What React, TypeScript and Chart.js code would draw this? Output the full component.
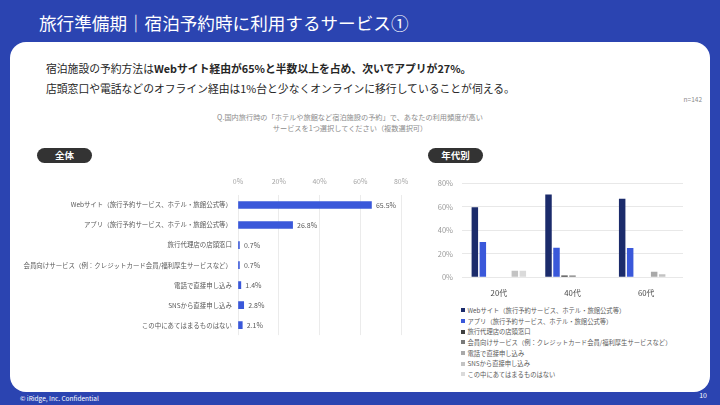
import React, { useEffect, useRef } from "react";
import { Chart, registerables } from "chart.js";

Chart.register(...registerables);

// ---------- data ----------
const serviceLabels = [
  "Webサイト（旅行予約サービス、ホテル・旅館公式等）",
  "アプリ（旅行予約サービス、ホテル・旅館公式等）",
  "旅行代理店の店頭窓口",
  "会員向けサービス（例：クレジットカード会員/福利厚生サービスなど）",
  "電話で直接申し込み",
  "SNSから直接申し込み",
  "この中にあてはまるものはない",
];
const overallValues = [65.5, 26.8, 0.7, 0.7, 1.4, 2.8, 2.1];
const percentTicks = [0, 20, 40, 60, 80];

const ageGroups = ["20代", "40代", "60代"];
const webByAge = [59.8, 70.6, 67.0];
const appByAge = [30.2, 25.3, 24.9];
const agencyByAge = [0, 1.5, 0];
const memberByAge = [0, 1.5, 0];
const phoneByAge = [0, 0, 4.8];
const snsByAge = [5.6, 0, 2.5];
const noneByAge = [5.6, 0, 0];
const ageSeries = [webByAge, appByAge, agencyByAge, memberByAge, phoneByAge, snsByAge, noneByAge];
const seriesColors = ["#1B2B6B", "#3A58DA", "#3F3F3F", "#7A7A7A", "#A9A9A9", "#C3C3C3", "#DADADA"];

const FONT = "'Noto Sans CJK JP', 'Noto Sans', sans-serif";
const BLUE_BG = "#2B44B1";

const valueLabelPlugin = {
  id: "valueLabels",
  afterDatasetsDraw(chart: any) {
    const ctx = chart.ctx;
    const meta = chart.getDatasetMeta(0);
    ctx.save();
    ctx.font = `7px ${FONT}`;
    ctx.fillStyle = "#5A5A5A";
    ctx.textBaseline = "middle";
    ctx.textAlign = "left";
    meta.data.forEach((bar: any, i: number) => {
      const v = chart.data.datasets[0].data[i];
      ctx.fillText(`${v.toFixed(1)}%`, bar.x + 4.5, bar.y + 0.5);
    });
    ctx.restore();
  },
};

function OverallChart() {
  const ref = useRef<HTMLCanvasElement>(null);
  useEffect(() => {
    const chart = new Chart(ref.current!, {
      type: "bar",
      data: {
        labels: serviceLabels,
        datasets: [
          {
            data: overallValues,
            backgroundColor: "#3A58DA",
            barThickness: 7,
          },
        ],
      },
      plugins: [valueLabelPlugin],
      options: {
        indexAxis: "y",
        responsive: false,
        animation: false,
        devicePixelRatio: 1,
        layout: { padding: { top: 0, right: 19, bottom: 6.5, left: 0 } },
        plugins: { legend: { display: false }, tooltip: { enabled: false } },
        scales: {
          x: {
            position: "top",
            min: 0,
            max: 80,
            afterBuildTicks: (s: any) => {
              s.ticks = percentTicks.map((v) => ({ value: v }));
            },
            afterFit: (s: any) => {
              s.height = 25;
            },
            grid: { color: "#EBEBEB", drawTicks: false },
            border: { display: false },
            ticks: {
              padding: 9,
              color: "#A6A6A6",
              font: { family: FONT, size: 7 },
              callback: (v: any) => `${v}%`,
            },
          },
          y: {
            afterFit: (s: any) => {
              s.width = 218;
            },
            grid: { display: false, drawTicks: false },
            border: { display: false },
            ticks: {
              padding: 6,
              color: "#595959",
              font: { family: FONT, size: 6.45 },
            },
          },
        },
      },
    } as any);
    return () => chart.destroy();
  }, []);
  return (
    <canvas
      ref={ref}
      width={400}
      height={175}
      style={{ position: "absolute", left: 20, top: 170, width: 400, height: 175 }}
    />
  );
}

function AgeChart() {
  const ref = useRef<HTMLCanvasElement>(null);
  useEffect(() => {
    const chart = new Chart(ref.current!, {
      type: "bar",
      data: {
        labels: ageGroups,
        datasets: ageSeries.map((vals, i) => ({
          label: serviceLabels[i],
          data: vals,
          backgroundColor: seriesColors[i],
          categoryPercentage: 0.76,
          barPercentage: 0.81,
        })),
      },
      options: {
        responsive: false,
        animation: false,
        devicePixelRatio: 1,
        layout: { padding: { top: 13.3, right: 17, bottom: 0, left: 0 } },
        plugins: { legend: { display: false }, tooltip: { enabled: false } },
        scales: {
          y: {
            min: 0,
            max: 80,
            afterBuildTicks: (s: any) => {
              s.ticks = percentTicks.map((v) => ({ value: v }));
            },
            afterFit: (s: any) => {
              s.width = 37;
            },
            grid: { color: "#E8E8E8", drawTicks: false },
            border: { display: false },
            ticks: {
              padding: 9,
              color: "#9A9A9A",
              font: { family: FONT, size: 7.5 },
              callback: (v: any) => `${v}%`,
            },
          },
          x: {
            afterFit: (s: any) => {
              s.height = 22.7;
            },
            grid: { display: false, drawTicks: false },
            border: { display: false },
            ticks: {
              padding: 11,
              color: "#4A4A4A",
              font: { family: FONT, size: 7.8 },
            },
          },
        },
      },
    } as any);
    return () => chart.destroy();
  }, []);
  return (
    <canvas
      ref={ref}
      width={275}
      height={130}
      style={{ position: "absolute", left: 425, top: 170, width: 275, height: 130 }}
    />
  );
}

function Pill({ text, left }: { text: string; left: number }) {
  return (
    <div
      style={{
        position: "absolute",
        left,
        top: 148,
        width: 55,
        height: 15,
        borderRadius: 8,
        background: "#333333",
        color: "#fff",
        fontSize: 9.5,
        fontWeight: 700,
        lineHeight: "15px",
        textAlign: "center",
      }}
    >
      {text}
    </div>
  );
}

export default function App() {
  return (
    <div
      style={{
        position: "fixed",
        left: 0,
        top: 0,
        width: 720,
        height: 405,
        background: BLUE_BG,
        overflow: "hidden",
        fontFamily: FONT,
      }}
    >
      <div
        style={{
          position: "absolute",
          left: 39,
          top: 12,
          color: "#fff",
          fontSize: 17.6,
          lineHeight: "22px",
          whiteSpace: "nowrap",
        }}
      >
        旅行準備期｜宿泊予約時に利用するサービス①
      </div>
      <div
        style={{
          position: "absolute",
          left: 10,
          top: 42,
          width: 700,
          height: 350,
          background: "#fff",
          borderRadius: 16,
        }}
      />
      <div
        style={{
          position: "absolute",
          left: 46,
          top: 59,
          fontSize: 10.8,
          lineHeight: "19.5px",
          color: "#262626",
          whiteSpace: "nowrap",
        }}
      >
        <div>
          宿泊施設の予約方法は<b>Webサイト経由が65%と半数以上を占め、次いでアプリが27%。</b>
        </div>
        <div>店頭窓口や電話などのオフライン経由は1%台と少なくオンラインに移行していることが伺える。</div>
      </div>
      <div
        style={{
          position: "absolute",
          right: 18,
          top: 94,
          fontSize: 6.5,
          color: "#8C8C8C",
        }}
      >
        n=142
      </div>
      <div
        style={{
          position: "absolute",
          left: 150,
          width: 400,
          top: 112,
          fontSize: 7.2,
          lineHeight: "11px",
          color: "#8C8C8C",
          textAlign: "center",
        }}
      >
        <div>Q.国内旅行時の「ホテルや旅館など宿泊施設の予約」で、あなたの利用頻度が高い</div>
        <div>サービスを1つ選択してください（複数選択可）</div>
      </div>
      <Pill text="全体" left={37} />
      <Pill text="年代別" left={428} />
      <OverallChart />
      <AgeChart />
      <div style={{ position: "absolute", left: 461, top: 305 }}>
        {serviceLabels.map((name, i) => (
          <div
            key={name}
            style={{
              display: "flex",
              alignItems: "center",
              height: 10.7,
              fontSize: 6.3,
              color: "#595959",
              whiteSpace: "nowrap",
            }}
          >
            <span
              style={{
                display: "inline-block",
                width: 4,
                height: 4,
                background: seriesColors[i],
                marginRight: 2.5,
              }}
            />
            {name}
          </div>
        ))}
      </div>
      <div
        style={{
          position: "absolute",
          left: 20,
          top: 393,
          fontSize: 6.5,
          color: "#fff",
          whiteSpace: "nowrap",
        }}
      >
        © iRidge, Inc. Confidential
      </div>
      <div
        style={{
          position: "absolute",
          right: 13,
          top: 390,
          fontSize: 7,
          color: "#fff",
        }}
      >
        10
      </div>
    </div>
  );
}
